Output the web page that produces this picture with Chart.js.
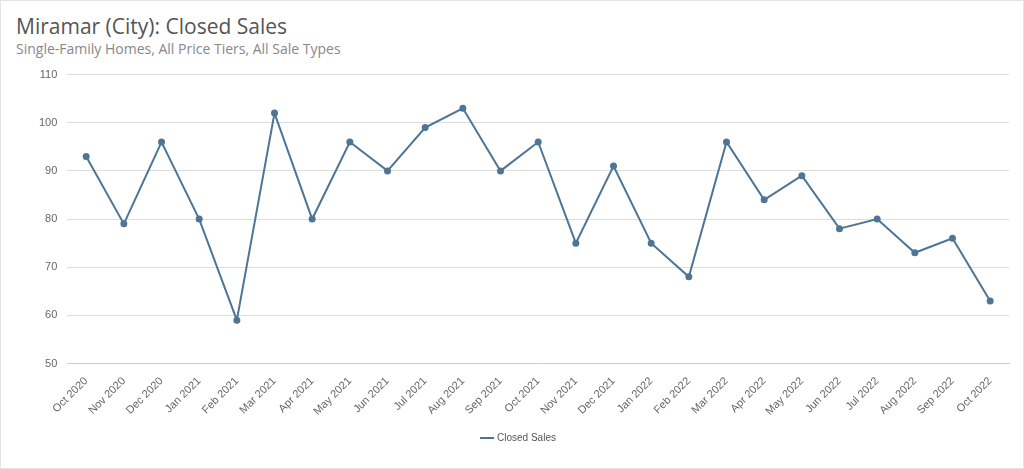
<!DOCTYPE html>
<html>
<head>
<meta charset="utf-8">
<script src="https://cdn.jsdelivr.net/npm/chart.js@4"></script>
<style>
  body { margin: 0; background: #fff; font-family: "Open Sans", sans-serif; }
  #wrap { position: relative; width: 1022px; height: 467px; border: 1px solid #e4e4e4; }
  h1 { position: absolute; left: 15px; top: 11px; margin: 0; font-size: 21px; font-weight: normal; color: #555; }
  h2 { position: absolute; left: 15px; top: 38px; margin: 0; font-size: 14px; font-weight: normal; color: #888; }
  #box { position: absolute; left: 10px; top: 57px; width: 1006px; height: 395px; }
</style>
</head>
<body>
<div id="wrap">
  <h1>Miramar (City): Closed Sales</h1>
  <h2>Single-Family Homes, All Price Tiers, All Sale Types</h2>
  <div id="box"><canvas id="line-chart"></canvas></div>
</div>
<script>
  var months = ["Oct 2020", "Nov 2020", "Dec 2020", "Jan 2021", "Feb 2021", "Mar 2021", "Apr 2021", "May 2021",
    "Jun 2021", "Jul 2021", "Aug 2021", "Sep 2021", "Oct 2021", "Nov 2021", "Dec 2021", "Jan 2022",
    "Feb 2022", "Mar 2022", "Apr 2022", "May 2022", "Jun 2022", "Jul 2022", "Aug 2022", "Sep 2022", "Oct 2022"];
  var closedSales = [93, 79, 96, 80, 59, 102, 80, 96, 90, 99, 103, 90, 96, 75, 91, 75, 68, 96, 84, 89, 78, 80, 73, 76, 63];

  new Chart(document.getElementById("line-chart"), {
    type: 'line',
    data: {
      labels: months,
      datasets: [{
        data: closedSales,
        label: "Closed Sales",
        borderColor: "#4e7595",
        backgroundColor: "#4e7595",
        borderWidth: 2,
        pointRadius: 2.5,
        tension: 0,
        fill: false
      }]
    },
    options: {
      responsive: true,
      maintainAspectRatio: false,
      animation: false,
      layout: { padding: { left: 18, right: 8 } },
      scales: {
        y: {
          min: 50, max: 110,
          ticks: { stepSize: 10, color: "#666", font: { size: 11 }, padding: 10 },
          grid: { color: "#ddd", drawTicks: false },
          border: { display: false }
        },
        x: {
          offset: true,
          ticks: { color: "#666", font: { size: 11 }, maxRotation: 45, minRotation: 45, autoSkip: false },
          grid: { display: false, offset: false },
          border: { color: "#ccc" }
        }
      },
      plugins: {
        legend: {
          position: 'bottom',
          labels: { color: "#555", font: { size: 10 }, usePointStyle: true, pointStyle: 'line', boxWidth: 20, padding: 12 }
        }
      }
    }
  });
</script>
</body>
</html>
